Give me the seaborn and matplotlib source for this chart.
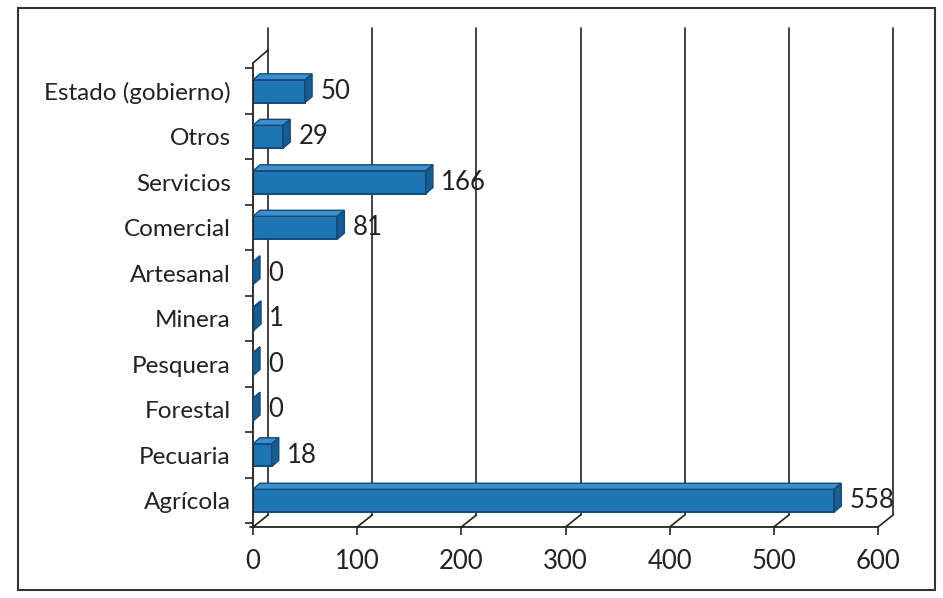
import numpy as np
import pandas as pd
import seaborn as sns
import matplotlib.pyplot as plt
from matplotlib.patches import Rectangle, Polygon

sns.set_theme(style="white")
plt.rcParams['font.family'] = ['Lato', 'DejaVu Sans']

categorias = ["Estado (gobierno)", "Otros", "Servicios", "Comercial", "Artesanal",
              "Minera", "Pesquera", "Forestal", "Pecuaria", "Agrícola"]
valores = [50, 29, 166, 81, 0, 1, 0, 0, 18, 558]
x_ticks = [0, 100, 200, 300, 400, 500, 600]

df = pd.DataFrame({"cat": categorias, "val": valores})

fig = plt.figure(figsize=(9.43, 5.98), dpi=100)
ax = fig.add_axes([253 / 943, 1 - 527 / 598, 625 / 943, (527 - 63) / 598])

sns.barplot(data=df, x="val", y="cat", orient="h", color="#1f74b4",
            width=0.5, edgecolor="#124a78", linewidth=1.4, saturation=1, ax=ax)

ax.set_xlim(0, 600)
ax.set_ylim(9.58, -0.62)
ax.set_xlabel("")
ax.set_ylabel("")
for s in ax.spines.values():
    s.set_visible(False)

# 3D-style back wall: offset gridlines
px_per_unit = 625 / 600
px_per_row = (527 - 63) / 10.2
dx = 15 / px_per_unit
dy = 12 / (527 - 63)
tr = ax.get_xaxis_transform()
for t in x_ticks:
    ax.plot([t, t + dx], [0, dy], color="#222222", lw=1.2, transform=tr, clip_on=False)
    ax.plot([t + dx, t + dx], [dy, 1.075], color="#222222", lw=1.2, transform=tr,
            clip_on=False, zorder=0)
# front axes lines
ax.plot([-3, 600], [0, 0], color="#222222", lw=1.3, transform=tr, clip_on=False)
ax.plot([0, 0], [0, 1], color="#222222", lw=1.3, transform=tr, clip_on=False)
ax.plot([0, dx], [1, 1 + 0.028], color="#222222", lw=1.2, transform=tr, clip_on=False)

# depth faces on the bar ends
bdx = 7 / px_per_unit
bdy = 6 / px_per_row
for p in ax.patches[:len(valores)]:
    x0, y0 = p.get_x(), p.get_y()
    w, h = p.get_width(), p.get_height()
    x1 = x0 + w
    top = Polygon([(x0, y0), (x0 + bdx, y0 - bdy), (x1 + bdx, y0 - bdy), (x1, y0)],
                  closed=True, facecolor="#3b8fcc", edgecolor="#124a78", lw=1.0, zorder=3)
    side = Polygon([(x1, y0), (x1 + bdx, y0 - bdy), (x1 + bdx, y0 + h - bdy), (x1, y0 + h)],
                   closed=True, facecolor="#155d93", edgecolor="#124a78", lw=1.0, zorder=3)
    ax.add_patch(top)
    ax.add_patch(side)

ax.set_xticks(x_ticks)
ax.set_xticklabels([str(t) for t in x_ticks], fontsize=18.5, color="#222222")
ax.tick_params(axis="x", length=6, width=1.2, color="#222222", pad=10, bottom=True)
ax.set_yticks(range(len(categorias)))
ax.set_yticklabels(categorias, fontsize=17.5, color="#222222")
ax.tick_params(axis="y", length=0, pad=16)
ax.set_yticks(np.arange(-0.5, len(categorias), 1), minor=True)
ax.tick_params(axis="y", which="minor", length=6, width=1.2, color="#222222", left=True)

ax.bar_label(ax.containers[0], labels=[str(v) for v in valores], padding=11,
             fontsize=18.5, color="#222222")

fig.patches.append(Rectangle((18 / 943, 1 - 590 / 598), 917 / 943, 582 / 598,
                             transform=fig.transFigure, fill=False,
                             edgecolor="#333333", lw=1.5))

fig.savefig("out.png", dpi=100)
